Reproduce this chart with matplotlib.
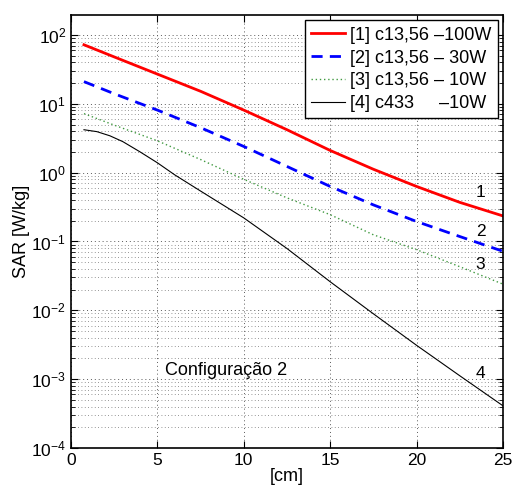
import matplotlib
matplotlib.use("Agg")
import matplotlib.pyplot as plt
from matplotlib.ticker import LogLocator, NullFormatter, FixedLocator
import numpy as np

plt.rcParams['font.family'] = ['Liberation Sans', 'DejaVu Sans']
plt.rcParams['mathtext.fontset'] = 'custom'
plt.rcParams['mathtext.rm'] = 'Liberation Sans'
plt.rcParams['mathtext.it'] = 'Liberation Sans:italic'
plt.rcParams['mathtext.bf'] = 'Liberation Sans:bold'

# distance from the applicator [cm]
dist = [0.75, 2.5, 5, 7.5, 10, 12.5, 15, 17.5, 20, 22.5, 25]
sar_c1356_100w = [72.0, 48.0, 27.0, 15.2, 8.1, 4.2, 2.1, 1.12, 0.63, 0.37, 0.235]
sar_c1356_30w = [21.0, 14.0, 8.1, 4.5, 2.4, 1.23, 0.63, 0.34, 0.195, 0.118, 0.072]
sar_c1356_10w = [7.2, 4.9, 2.9, 1.55, 0.8, 0.43, 0.245, 0.125, 0.076, 0.043, 0.024]

dist_c433 = [0.75, 1.5, 2.25, 3, 4, 5, 6, 7.5, 10, 12.5, 15, 17.5, 20, 22.5, 25]
sar_c433_10w = [4.20, 3.94, 3.43, 2.82, 2.0, 1.39, 0.93, 0.54, 0.22, 0.079, 0.026,
                0.0089, 0.0031, 0.00112, 0.00041]

labels = ["[1] c13,56 \u2013100W", "[2] c13,56 \u2013 30W",
          "[3] c13,56 \u2013 10W", "[4] c433     \u201310W"]
curve_tags = ["1", "2", "3", "4"]
tag_x = [23.7, 23.7, 23.7, 23.7]
tag_y = [0.52, 0.14, 0.046, 0.0012]

fig = plt.figure(figsize=(5.14, 4.88), dpi=100)
ax = fig.add_axes([71 / 514, 40 / 488, 432 / 514, 433 / 488])

ax.plot(dist, sar_c1356_100w, color='red', lw=2.0, label=labels[0])
ax.plot(dist, sar_c1356_30w, color='blue', lw=2.0, ls=(0, (4, 2.6)), label=labels[1])
ax.plot(dist, sar_c1356_10w, color=(0.25, 0.6, 0.25), lw=1.0, ls=(0, (1, 2)), label=labels[2])
ax.plot(dist_c433, sar_c433_10w, color='black', lw=0.8, label=labels[3])

ax.set_yscale('log')
ax.set_xlim(0, 25)
ax.set_ylim(1e-4, 10 ** 2.29)

ax.xaxis.set_major_locator(FixedLocator([0, 5, 10, 15, 20, 25]))
ax.yaxis.set_major_locator(LogLocator(base=10, numticks=10))
ax.yaxis.set_minor_locator(LogLocator(base=10, subs=np.arange(2, 10), numticks=20))
ax.yaxis.set_minor_formatter(NullFormatter())

ax.grid(True, which='major', axis='both', ls=(0, (1, 3)), color='0.35', lw=0.7)
ax.grid(True, which='minor', axis='y', ls=(0, (1, 3)), color='0.45', lw=0.6)

ax.tick_params(which='both', direction='in', top=True, right=True, labelsize=12.5)
ax.tick_params(which='major', length=5, width=0.8)
ax.tick_params(which='minor', length=3, width=0.6)
for s in ax.spines.values():
    s.set_linewidth(1.2)

ax.set_xlabel("[cm]", fontsize=13, labelpad=0)
ax.set_ylabel("SAR [W/kg]", fontsize=13, labelpad=1)

for t, xv, yv in zip(curve_tags, tag_x, tag_y):
    ax.text(xv, yv, t, fontsize=12.5, ha='center', va='center')

ax.text(5.44, 1.33e-3, "Configura\u00e7\u00e3o 2", fontsize=13, ha='left', va='center')

leg = ax.legend(loc='upper right', fontsize=13, frameon=True, fancybox=False,
                edgecolor='black', framealpha=1, borderpad=0.35, labelspacing=0.32,
                handlelength=1.9, handletextpad=0.25, borderaxespad=0.3)
leg.get_frame().set_linewidth(1.0)

fig.savefig("out.png", dpi=100)
